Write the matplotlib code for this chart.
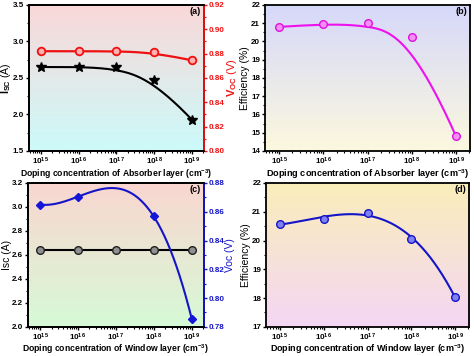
import numpy as np
import matplotlib
matplotlib.use('Agg')
import matplotlib.pyplot as plt
from matplotlib.ticker import FixedLocator, FormatStrFormatter, LogLocator, NullFormatter, AutoMinorLocator

plt.rcParams['font.family'] = ['Liberation Sans', 'DejaVu Sans']
plt.rcParams['font.weight'] = 'bold'
plt.rcParams['mathtext.fontset'] = 'custom'
plt.rcParams['mathtext.rm'] = 'Liberation Sans:bold'
plt.rcParams['mathtext.bf'] = 'Liberation Sans:bold'
plt.rcParams['mathtext.it'] = 'Liberation Sans:bold'

# data
exps = [15, 16, 17, 18, 19]
doping = [1e15, 1e16, 1e17, 1e18, 1e19]
xtick_labels = [r'$\mathbf{10^{%d}}$' % e for e in exps]

isc_abs = [2.65, 2.65, 2.65, 2.47, 1.93]
voc_abs = [0.882, 0.882, 0.882, 0.881, 0.8745]
eff_abs = [20.8, 20.95, 21.0, 20.25, 14.8]

isc_win = [2.645, 2.645, 2.645, 2.645, 2.645]
doping_voc_win = [1e15, 1e16, 1e18, 1e19]
voc_win = [0.865, 0.8705, 0.8567, 0.7857]
eff_win = [20.57, 20.76, 20.97, 20.05, 18.03]

TICK_FS = 5.8


def bspline(x, y, n=300, k=3):
    # clamped cubic B-spline, data points used as control points (like Origin)
    x = np.asarray(x, float)
    y = np.asarray(y, float)
    m = len(x)
    t = np.concatenate([[0] * k, np.linspace(0, 1, m - k + 1), [1] * k])
    u = np.linspace(0, 1, n)
    u[-1] -= 1e-9

    def basis(i, p):
        if p == 0:
            return ((t[i] <= u) & (u < t[i + 1])).astype(float)
        a = 0 if t[i + p] == t[i] else (u - t[i]) / (t[i + p] - t[i]) * basis(i, p - 1)
        b = 0 if t[i + p + 1] == t[i + 1] else (t[i + p + 1] - u) / (t[i + p + 1] - t[i + 1]) * basis(i + 1, p - 1)
        return a + b

    B = np.array([basis(i, k) for i in range(m)])
    return B.T @ x, B.T @ y


def polycurve(x, y, deg=3, n=300):
    lx = np.log10(x)
    c = np.polyfit(lx, y, deg)
    xx = np.linspace(lx.min(), lx.max(), n)
    return 10 ** xx, np.polyval(c, xx)


def logcurve(x, y):
    lx, yy = bspline(np.log10(x), y)
    return 10 ** lx, yy


def gradient(ax, top, bottom):
    top = np.array(top) / 255.
    bottom = np.array(bottom) / 255.
    f = np.linspace(0, 1, 256)[:, None]
    img = top[None, :] * (1 - f) + bottom[None, :] * f
    ax.imshow(img[:, None, :], extent=[0, 1, 0, 1], transform=ax.transAxes,
              aspect='auto', zorder=0, interpolation='bilinear')


def style(ax, xlabel, xfs, lpad=0):
    ax.set_xscale('log')
    ax.set_xlim(10 ** 14.68, 10 ** 19.32)
    ax.xaxis.set_major_locator(FixedLocator(doping))
    ax.set_xticklabels(xtick_labels)
    ax.xaxis.set_minor_locator(LogLocator(base=10, subs=np.arange(2, 10)))
    ax.xaxis.set_minor_formatter(NullFormatter())
    ax.yaxis.set_minor_locator(AutoMinorLocator(2))
    ax.tick_params(which='major', direction='out', length=2.5, width=1, labelsize=TICK_FS, pad=1)
    ax.tick_params(which='minor', direction='out', length=1.5, width=0.8)
    for s in ax.spines.values():
        s.set_linewidth(1.3)
    ax.set_xlabel(xlabel, fontsize=xfs, fontweight='bold', labelpad=lpad)


def right_axis(ax2, color):
    ax2.yaxis.set_minor_locator(AutoMinorLocator(2))
    ax2.tick_params(which='both', direction='out', colors=color, labelsize=TICK_FS, pad=1)
    ax2.tick_params(which='major', length=2.5, width=1)
    ax2.tick_params(which='minor', length=1.5, width=0.8)
    for s in ax2.spines.values():
        s.set_linewidth(1.3)
    ax2.spines['right'].set_color(color)
    ax2.yaxis.set_major_formatter(FormatStrFormatter('%.2f'))


fig = plt.figure(figsize=(4.74, 3.56), dpi=100)

ax_a = fig.add_axes([0.061, 0.576, 0.369, 0.41])
ax_b = fig.add_axes([0.559, 0.576, 0.433, 0.41])
ax_c = fig.add_axes([0.059, 0.082, 0.371, 0.404])
ax_d = fig.add_axes([0.561, 0.082, 0.429, 0.404])

lab_abs = r'Doping concentration of Absorber layer (cm$^{\mathbf{-3}}$)'
lab_win = r'Doping concentration of Window layer (cm$^{\mathbf{-3}}$)'

red = '#ee1111'
blue = '#1515c8'

# (a)
gradient(ax_a, (250, 216, 216), (204, 250, 250))
cx, cy = logcurve(doping, isc_abs)
ax_a.plot(cx, cy, color='black', lw=1.5, zorder=3)
ax_a.plot(doping, isc_abs, ls='none', marker='*', ms=7, color='black', zorder=4)
style(ax_a, lab_abs, 6.2)
ax_a.set_ylim(1.5, 3.5)
ax_a.set_yticks([1.5, 2.0, 2.5, 3.0, 3.5])
ax_a.yaxis.set_major_formatter(FormatStrFormatter('%.1f'))
ax_a.set_ylabel(r'$\mathbf{I_{SC}}$ (A)', fontsize=7.6, labelpad=0)
ax_a2 = ax_a.twinx()
cx, cy = logcurve(doping, voc_abs)
ax_a2.plot(cx, cy, color=red, lw=1.6, zorder=3)
ax_a2.plot(doping, voc_abs, ls='none', marker='o', ms=5.5, mfc='#ffb0b0', mec=red, mew=1.3, zorder=4)
ax_a2.set_ylim(0.80, 0.92)
ax_a2.set_yticks([0.80, 0.82, 0.84, 0.86, 0.88, 0.90, 0.92])
right_axis(ax_a2, red)
ax_a2.set_ylabel(r'$\mathbf{V_{OC}}$ (V)', fontsize=8, color=red, labelpad=0)
ax_a.text(0.985, 0.985, '(a)', transform=ax_a.transAxes, ha='right', va='top', fontsize=6.5, fontweight='bold', zorder=5)

# (b)
gradient(ax_b, (214, 216, 250), (252, 248, 222))
cx, cy = logcurve(doping, eff_abs)
ax_b.plot(cx, cy, color='#ee11ee', lw=1.5, zorder=3)
ax_b.plot(doping, eff_abs, ls='none', marker='o', ms=5.5, mfc='#f490f4', mec='#dd11dd', mew=1.0, zorder=4)
style(ax_b, lab_abs, 6.6)
ax_b.set_ylim(14, 22)
ax_b.set_yticks(range(14, 23))
ax_b.set_ylabel('Efficiency (%)', fontsize=7.5, labelpad=1)
ax_b.text(0.985, 0.985, '(b)', transform=ax_b.transAxes, ha='right', va='top', fontsize=6.5, fontweight='bold', zorder=5)

# (c)
gradient(ax_c, (250, 214, 208), (214, 250, 214))
ax_c.plot(doping, isc_win, color='black', lw=1.5, zorder=3)
ax_c.plot(doping, isc_win, ls='none', marker='o', ms=5.5, mfc='#909090', mec='#202020', mew=1.0, zorder=4)
style(ax_c, lab_win, 6.2, lpad=-0.5)
ax_c.set_ylim(2.0, 3.2)
ax_c.set_yticks([2.0, 2.2, 2.4, 2.6, 2.8, 3.0, 3.2])
ax_c.yaxis.set_major_formatter(FormatStrFormatter('%.1f'))
ax_c.set_ylabel('Isc (A)', fontsize=7.5, labelpad=0)
ax_c2 = ax_c.twinx()
cx, cy = polycurve(doping_voc_win, voc_win, 3)
ax_c2.plot(cx, cy, color=blue, lw=1.5, zorder=3)
ax_c2.plot(doping_voc_win, voc_win, ls='none', marker='D', ms=4.2, color='#1515d8', zorder=4)
ax_c2.set_ylim(0.78, 0.88)
ax_c2.set_yticks([0.78, 0.80, 0.82, 0.84, 0.86, 0.88])
right_axis(ax_c2, blue)
ax_c2.set_ylabel('Voc (V)', fontsize=7.5, color=blue, labelpad=0)
ax_c.text(0.985, 0.985, '(c)', transform=ax_c.transAxes, ha='right', va='top', fontsize=6.5, fontweight='bold', zorder=5)

# (d)
gradient(ax_d, (250, 238, 186), (244, 214, 244))
cx, cy = polycurve(doping, eff_win, 3)
ax_d.plot(cx, cy, color=blue, lw=1.5, zorder=3)
ax_d.plot(doping, eff_win, ls='none', marker='o', ms=5.5, mfc='#8080f0', mec=blue, mew=1.0, zorder=4)
style(ax_d, lab_win, 6.5, lpad=-0.5)
ax_d.set_ylim(17, 22)
ax_d.set_yticks(range(17, 23))
ax_d.set_ylabel('Efficiency (%)', fontsize=7.5, labelpad=1)
ax_d.text(0.985, 0.985, '(d)', transform=ax_d.transAxes, ha='right', va='top', fontsize=6.5, fontweight='bold', zorder=5)

fig.savefig('out.png', dpi=100)
